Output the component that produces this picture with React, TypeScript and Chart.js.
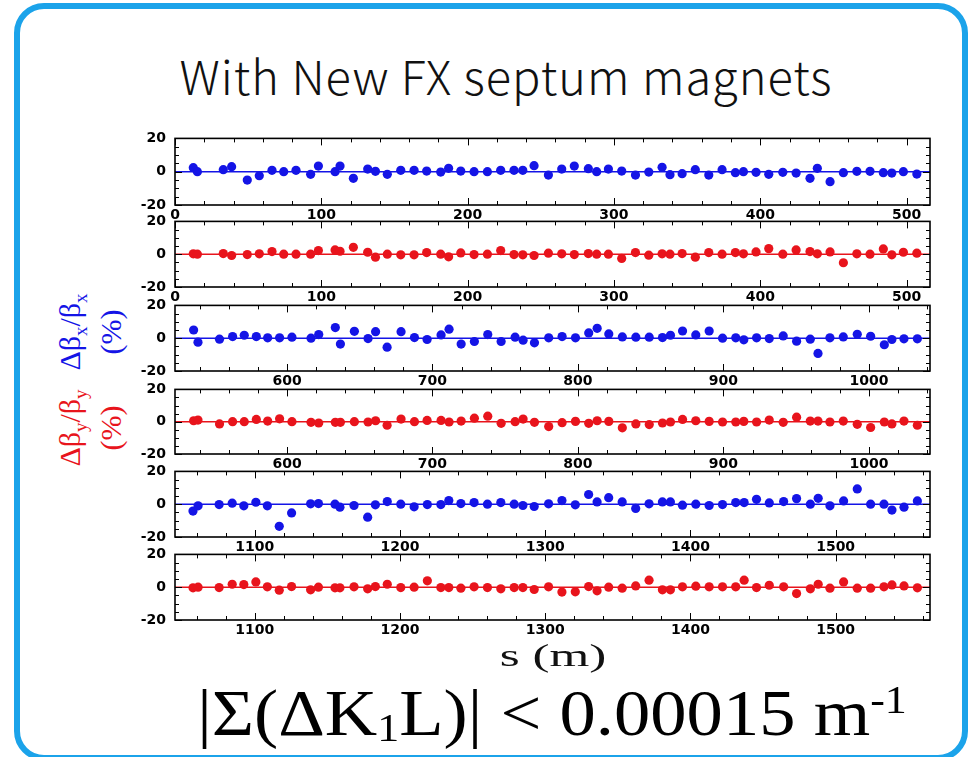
import React, { useEffect, useRef } from "react";
import { Chart, registerables } from "chart.js";

Chart.register(...registerables);

// ---- Data: BPM positions s (m) and beta-beat values (%) ----
const sSection1 = [
  12.5, 15.3, 33, 38.7, 49.4, 57.6, 66.3, 74.3, 82.7, 92.7,
  98, 109.4, 112.8, 121.9, 131.7, 137, 145.1, 154.3, 163.4, 172,
  181.6, 187, 195.3, 204.4, 213.5, 222.6, 231.7, 237.7, 245.4,
  255.2, 264.3, 272.9, 282.5, 288.2, 296.2, 305.3, 314.7, 323.8, 332.9,
  338.3, 346.6, 355.6, 364.8, 373.9, 383, 388.5, 397.1, 405.8, 415.4,
  424.5, 434, 439, 447.7, 456.8, 466, 475, 484.1, 489.9, 497.8, 507,
];
const dBetaX1 = [
  2.4, 0, 1.2, 3, -5, -2.4, 0.8, 0, 0.8, -1.6,
  3.4, 0, 3.4, -4, 1.6, 0.2, -1.6, 0.8, 0.8, 0.4,
  -0.2, 2, 0.4, 0, 0, 0.8, 0.8, 0.8, 3.6,
  -2, 1.6, 3.4, 1.8, 0, 1.6, 0.4, -2, -0.2, 2.6,
  -1.8, -1.2, 1.2, -2, 1.2, -0.6, 0, -0.4, -1.6, -0.4,
  -0.8, -4, 2, -6, -0.6, 0.2, 0.2, -0.6, -0.8, 0, -1.4,
];
const dBetaY1 = [
  0.2, 0, 0.4, -0.8, -0.2, 0.2, 1.6, 0, 0, 0,
  2.2, 2.6, 1.8, 4.2, 1.2, -1.8, 0, -0.4, -0.4, 1,
  0, -1.6, 0.8, -0.2, 0, 2.2, -0.2, -0.4, -0.8,
  0.6, 0.2, -0.2, 0.4, 0, 0, -2.6, 1, -0.6, 0.2,
  0, 0.4, -1.8, 1, 0, 1, 0.2, 1.4, 3.4, 0,
  2.6, 1.6, 0.2, 1.4, -5.2, 0.2, 0, 3.2, -0.4, 1.2, 0.6,
];

const sSection2 = [
  535.8, 538.8, 553.6, 562.6, 570.6, 578.9, 586.7, 594.9, 603.4, 616.5,
  621.8, 633.2, 636.7, 646.3, 655.7, 660.9, 668.8, 678.4, 687.6, 696.3,
  705.9, 711.4, 719.7, 728.8, 738, 747.2, 756.8, 762.3, 770.1,
  779.9, 789.1, 798.3, 807.4, 813.2, 821.2, 830.5, 839.8, 849, 858.1,
  863.6, 871.9, 881, 890.2, 899.4, 908.5, 914, 922.8, 931.5, 941.1,
  950.3, 959.7, 965, 973.2, 982.4, 992, 1001.2, 1010.6, 1015.8, 1024.1, 1033.3,
];
const dBetaX2 = [
  5, -2.4, -0.6, 1, 1.8, 1, 0.2, 0.2, 0.6, 0,
  2.2, 6.5, -3.6, 4.2, -0.2, 4, -5.5, 4, 0.4, -0.8,
  2, 5.5, -3.6, -2, 2.2, -2, 0.6, -1.2, -2.8,
  0.2, 1, 0.2, 3.2, 6, 2.6, 0.8, 0.6, 0.6, 0.4,
  1.8, 4.4, 2, 4.4, 0, 0.2, -1, 0.2, -0.2, 1.4,
  -1.8, -0.6, -9.3, 0.2, 0.8, 2.4, 1.2, -4, -0.8, -0.4, -0.4,
];
const dBetaY2 = [
  0.6, 1, -1.4, 0, 0, 1.4, 0.4, 1.8, 0, -0.4,
  -0.8, -0.4, -0.4, 0, -0.2, 0.6, -2.2, 1.6, 0, 0.8,
  0.8, -0.2, 0.4, 2.2, 3.4, -1, 0, 1.6, -0.4,
  -3, -0.6, 0.2, -1, 0.6, 0.2, -3.8, -1.4, -1.8, -0.8,
  -0.2, 1.4, 0.6, 0.2, -0.2, -0.2, 0.2, -0.2, 1, -0.4,
  2.8, 0.4, 0.4, -0.2, 0.4, -1.6, -3.6, -0.2, -1.4, 0.4, -2.2,
];

const sSection3 = [
  1057.4, 1060.9, 1075.4, 1084.4, 1092.4, 1100.7, 1108.6, 1116.8, 1125.3, 1138.4,
  1143.8, 1155.2, 1158.6, 1168.3, 1177.7, 1183, 1191.2, 1200.5, 1209.7, 1218.8,
  1228.1, 1233.6, 1241.9, 1251, 1260.2, 1269.4, 1278.6, 1284.6, 1292.4,
  1302.3, 1311.5, 1320.7, 1329.9, 1335.7, 1343.7, 1353, 1362.3, 1371.5, 1380.7,
  1386.2, 1394.5, 1403.7, 1412.9, 1422.1, 1431.2, 1437, 1445.5, 1454.3, 1464.2,
  1473.1, 1482.6, 1488, 1496.1, 1505.5, 1514.9, 1524.1, 1533.3, 1538.8, 1547.1, 1556.3,
];
const dBetaX3 = [
  -4.2, -1, -0.2, 0.6, -1, 1.2, -1, -13.5, -5.3, 0.2,
  0.4, 0, -1.8, -0.8, -7.9, -0.4, 1.6, 0, -1.6, -0.2,
  -0.2, 2.2, 0.4, 1, 0, 1, 0, -0.8, -1.4,
  0.2, 2.2, -0.4, 5.9, 1.4, 4, 1.4, -2.6, 0.2, 1.4,
  1.4, -0.6, 0, -0.8, -0.2, 1, 1, 3, 0.8, 1.6,
  3.4, 0, 3.6, -1, 2, 9.3, 0, 0, -3.6, -1.8, 2,
];
const dBetaY3 = [
  -0.4, 0, -0.2, 1.8, 1.6, 3.2, 0.2, -1.8, 0.4, -1.6,
  0, -0.4, -0.4, 0.2, -1, 0.4, 1.8, -0.2, 0, 3.9,
  -0.2, -0.2, -0.6, 0.2, -0.2, -1, -0.2, -0.2, -1.4,
  0.2, -3, -2.8, 0.4, -2.2, 0, -0.6, 0.8, 4.3, -1.6,
  -1.6, 0.2, 0.6, 0.2, 0.2, 0.2, 4.3, -0.2, 1.2, 0.2,
  -3.9, -1, 1.8, -0.6, 3.2, -0.6, -0.6, 0.2, 1.4, 0.8, -0.4,
];

// axis ranges of each section (m) and the y range (%)
const sRanges = [
  [0, 516],
  [523, 1042],
  [1045, 1565],
];
const yRange = [-20, 20];
const yTickValues = [-20, 0, 20];
const baseline = 0;

const BLUE = "#1414e6";
const RED = "#e8141c";

type Panel = {
  s: number[];
  v: number[];
  color: string;
  range: number[];
  boxTop: number;
  boxBottom: number;
};

const panels: Panel[] = [
  { s: sSection1, v: dBetaX1, color: BLUE, range: sRanges[0], boxTop: 138, boxBottom: 205 },
  { s: sSection1, v: dBetaY1, color: RED, range: sRanges[0], boxTop: 221, boxBottom: 287 },
  { s: sSection2, v: dBetaX2, color: BLUE, range: sRanges[1], boxTop: 305, boxBottom: 371 },
  { s: sSection2, v: dBetaY2, color: RED, range: sRanges[1], boxTop: 389, boxBottom: 454 },
  { s: sSection3, v: dBetaX3, color: BLUE, range: sRanges[2], boxTop: 471, boxBottom: 537 },
  { s: sSection3, v: dBetaY3, color: RED, range: sRanges[2], boxTop: 554, boxBottom: 620 },
];

const CANVAS_LEFT = 140;
const BOX_LEFT = 175;
const BOX_RIGHT = 930;
const PAD_TOP = 10;
const PAD_RIGHT = 6;
const XAXIS_H = 22;

const frameTicks = {
  id: "frameTicks",
  afterDraw(chart: any) {
    const { ctx, chartArea, scales } = chart;
    const { left, right, top, bottom } = chartArea;
    const xs = scales.x;
    const ys = scales.y;
    ctx.save();
    ctx.strokeStyle = "#000";
    ctx.lineWidth = 1;
    const start = Math.ceil(xs.min / 20) * 20;
    for (let v = start; v <= xs.max; v += 20) {
      const px = Math.round(xs.getPixelForValue(v)) + 0.5;
      const len = v % 100 === 0 ? 7 : 4;
      ctx.beginPath();
      ctx.moveTo(px, bottom);
      ctx.lineTo(px, bottom - len);
      ctx.moveTo(px, top);
      ctx.lineTo(px, top + len);
      ctx.stroke();
    }
    for (let v = ys.min; v <= ys.max; v += 5) {
      const py = Math.round(ys.getPixelForValue(v)) + 0.5;
      const len = v % 20 === 0 ? 7 : 4;
      ctx.beginPath();
      ctx.moveTo(left, py);
      ctx.lineTo(left + len, py);
      ctx.moveTo(right, py);
      ctx.lineTo(right - len, py);
      ctx.stroke();
    }
    ctx.lineWidth = 1.6;
    ctx.strokeRect(left, top, right - left, bottom - top);
    ctx.restore();
  },
};

function PanelChart({ p }: { p: Panel }) {
  const ref = useRef<HTMLCanvasElement | null>(null);
  const width = BOX_RIGHT + PAD_RIGHT - CANVAS_LEFT;
  const height = p.boxBottom - p.boxTop + PAD_TOP + XAXIS_H;
  useEffect(() => {
    const canvas = ref.current;
    if (!canvas) return;
    const tickFont = { family: "'DejaVu Sans', sans-serif", weight: "bold" as const, size: 14 };
    const chart = new Chart(canvas, {
      type: "scatter",
      data: {
        datasets: [
          {
            type: "scatter",
            data: p.s.map((s, i) => ({ x: s, y: p.v[i] })),
            backgroundColor: p.color,
            borderColor: p.color,
            pointRadius: 4.6,
            pointBorderWidth: 0,
            order: 0,
          },
          {
            type: "line",
            data: [
              { x: p.range[0], y: baseline },
              { x: p.range[1], y: baseline },
            ],
            borderColor: p.color,
            borderWidth: 1.5,
            pointRadius: 0,
            order: 1,
          },
        ],
      },
      options: {
        animation: false,
        responsive: false,
        maintainAspectRatio: false,
        events: [],
        layout: {
          autoPadding: false,
          padding: { top: PAD_TOP, right: PAD_RIGHT, left: 0, bottom: 0 },
        },
        plugins: { legend: { display: false }, tooltip: { enabled: false } },
        scales: {
          x: {
            type: "linear",
            min: p.range[0],
            max: p.range[1],
            grid: { display: false, drawTicks: false },
            border: { display: false },
            ticks: {
              stepSize: 100,
              includeBounds: false,
              autoSkip: false,
              maxRotation: 0,
              padding: 2,
              color: "#000",
              font: tickFont,
              callback: (v: any) => String(v),
            },
            afterBuildTicks: (scale: any) => {
              scale.ticks = scale.ticks.filter((t: any) => t.value % 100 === 0);
            },
            afterFit: (scale: any) => {
              scale.height = XAXIS_H;
            },
          },
          y: {
            type: "linear",
            min: yRange[0],
            max: yRange[1],
            grid: { display: false, drawTicks: false },
            border: { display: false },
            ticks: {
              stepSize: 20,
              autoSkip: false,
              padding: 9,
              color: "#000",
              font: tickFont,
              callback: (v: any) => String(v),
            },
            afterBuildTicks: (scale: any) => {
              scale.ticks = yTickValues.map((v) => ({ value: v }));
            },
            afterFit: (scale: any) => {
              scale.width = BOX_LEFT - CANVAS_LEFT;
            },
          },
        },
      },
      plugins: [frameTicks],
    } as any);

    // calibrate canvas size/position so the plot box lands exactly where intended
    const wantH = p.boxBottom - p.boxTop;
    const wantW = BOX_RIGHT - BOX_LEFT;
    let ca = chart.chartArea;
    const dH = Math.round(wantH - (ca.bottom - ca.top));
    const dW = Math.round(wantW - (ca.right - ca.left));
    if (dH !== 0 || dW !== 0) {
      chart.resize(width + dW, height + dH);
      ca = chart.chartArea;
    }
    canvas.style.position = "absolute";
    canvas.style.top = `${p.boxTop - ca.top}px`;
    canvas.style.left = `${BOX_LEFT - ca.left}px`;
    return () => chart.destroy();
  }, [p]);
  return (
    <canvas
      ref={ref}
      width={width}
      height={height}
      style={{
        position: "absolute",
        left: CANVAS_LEFT,
        top: p.boxTop - PAD_TOP,
        width,
        height,
      }}
    />
  );
}

const serif = "'Liberation Serif', 'Times New Roman', serif";

export default function App() {
  return (
    <div
      style={{
        position: "absolute",
        left: 0,
        top: 0,
        width: 968,
        height: 757,
        background: "#fff",
        overflow: "hidden",
      }}
    >
      <div
        style={{
          position: "absolute",
          left: 14,
          top: 3,
          width: 942,
          height: 746,
          border: "6px solid #1ba3ea",
          borderRadius: 30,
        }}
      />
      <div
        style={{
          position: "absolute",
          left: 506,
          top: 75,
          transform: "translate(-50%, -50%)",
          fontFamily: "'Noto Sans CJK JP', 'Noto Sans', sans-serif",
          fontWeight: 300,
          fontSize: 47,
          letterSpacing: 1,
          lineHeight: "60px",
          color: "#111",
          whiteSpace: "nowrap",
        }}
      >
        With New FX septum magnets
      </div>

      {/* y-axis titles (rotated) */}
      <div
        style={{
          position: "absolute",
          left: 90,
          top: 428,
          transform: "translate(-50%, -50%) rotate(-90deg)",
          fontFamily: serif,
          fontSize: 30,
          lineHeight: "30px",
          color: RED,
          textAlign: "center",
          whiteSpace: "nowrap",
        }}
      >
        <div>
          Δβ<sub style={{ fontSize: 19 }}>y</sub>/β<sub style={{ fontSize: 19 }}>y</sub>
        </div>
        <div>(%)</div>
      </div>
      <div
        style={{
          position: "absolute",
          left: 90,
          top: 332,
          transform: "translate(-50%, -50%) rotate(-90deg)",
          fontFamily: serif,
          fontSize: 30,
          lineHeight: "30px",
          color: BLUE,
          textAlign: "center",
          whiteSpace: "nowrap",
        }}
      >
        <div>
          Δβ<sub style={{ fontSize: 19 }}>x</sub>/β<sub style={{ fontSize: 19 }}>x</sub>
        </div>
        <div>(%)</div>
      </div>

      {panels.map((p, i) => (
        <PanelChart key={i} p={p} />
      ))}

      <div
        style={{
          position: "absolute",
          left: 553,
          top: 655,
          transform: "translate(-50%, -50%) scaleX(1.6)",
          fontFamily: serif,
          fontSize: 32,
          lineHeight: "34px",
          color: "#111",
          whiteSpace: "nowrap",
        }}
      >
        s (m)
      </div>

      <div
        style={{
          position: "absolute",
          left: 552,
          top: 714,
          transform: "translate(-50%, -50%) scaleX(1.1)",
          fontFamily: serif,
          fontSize: 66,
          lineHeight: "70px",
          color: "#000",
          whiteSpace: "nowrap",
        }}
      >
        |Σ(ΔK<sub style={{ fontSize: 40, verticalAlign: "-6px" }}>1</sub>L)| &lt; 0.00015 m
        <sup style={{ fontSize: 40, verticalAlign: "22px" }}>-1</sup>
      </div>
    </div>
  );
}
